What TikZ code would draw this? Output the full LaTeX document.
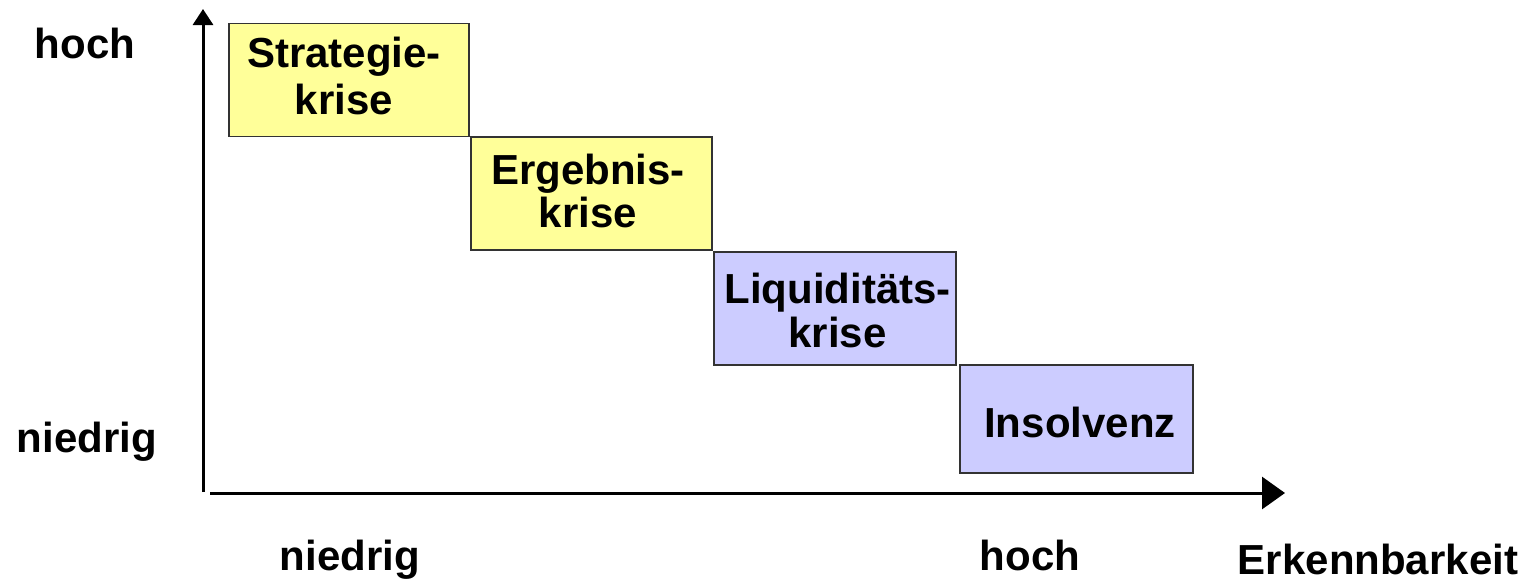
\documentclass[tikz,border=0pt]{standalone}
\usepackage{fontspec}
\setmainfont{Liberation Sans}
\usetikzlibrary{arrows.meta}
\definecolor{boxyellow}{HTML}{FFFF99}
\definecolor{boxlilac}{HTML}{CCCCFF}
\definecolor{boxedge}{HTML}{333333}
\tikzset{
  crisis/.style={draw=boxedge, line width=1.3pt, minimum height=113pt,
    inner sep=0pt},
  crisistext/.style={anchor=north, align=center, inner sep=0pt,
    font=\fontsize{42}{44}\selectfont\bfseries},
  axislabel/.style={anchor=base, inner sep=0pt,
    font=\fontsize{42}{44}\selectfont\bfseries},
  axis/.style={line width=3pt}
}
\begin{document}
\begin{tikzpicture}[x=1pt,y=-1pt]
\useasboundingbox (0,0) rectangle (1527,582);
% axes
\coordinate (yfoot) at (203,492);
\coordinate (ytip) at (203,9);
\coordinate (xfoot) at (210,493);
\coordinate (xtip) at (1285,493);
\draw[axis, -{Triangle[length=16pt,width=20pt]}] (yfoot) -- (ytip);
\draw[axis, -{Triangle[length=23pt,width=32pt]}] (xfoot) -- (xtip);
% crisis stages, stepping down from left to right
\node[crisis, fill=boxyellow, minimum width=240pt] (strat) at (349,80) {};
\node[crisis, fill=boxyellow, minimum width=241pt] (ergeb) at (591.5,193.5) {};
\node[crisis, fill=boxlilac, minimum width=242pt] (liqui) at (835,308.5) {};
\node[crisis, fill=boxlilac, minimum width=233pt, minimum height=108pt] (insol) at (1076.5,419) {};
\node[crisistext, font=\fontsize{42}{47}\selectfont\bfseries] (strat-t) at (344,37) {Strategie-\\krise};
\node[crisistext, font=\fontsize{42}{43}\selectfont\bfseries] (ergeb-t) at (588,154) {Ergebnis-\\krise};
\node[crisistext] (liqui-t) at (837.5,273) {Liquiditäts-\\krise};
\node[axislabel] (insol-t) at (1080,437) {Insolvenz};
% axis labels
\node[axislabel] (yhigh) at (85,58) {hoch};
\node[axislabel] (ylow) at (87,452) {niedrig};
\node[axislabel] (xlow) at (350,570) {niedrig};
\node[axislabel] (xhigh) at (1030,570) {hoch};
\node[axislabel] (xname) at (1378,574) {Erkennbarkeit};
\end{tikzpicture}
\end{document}
